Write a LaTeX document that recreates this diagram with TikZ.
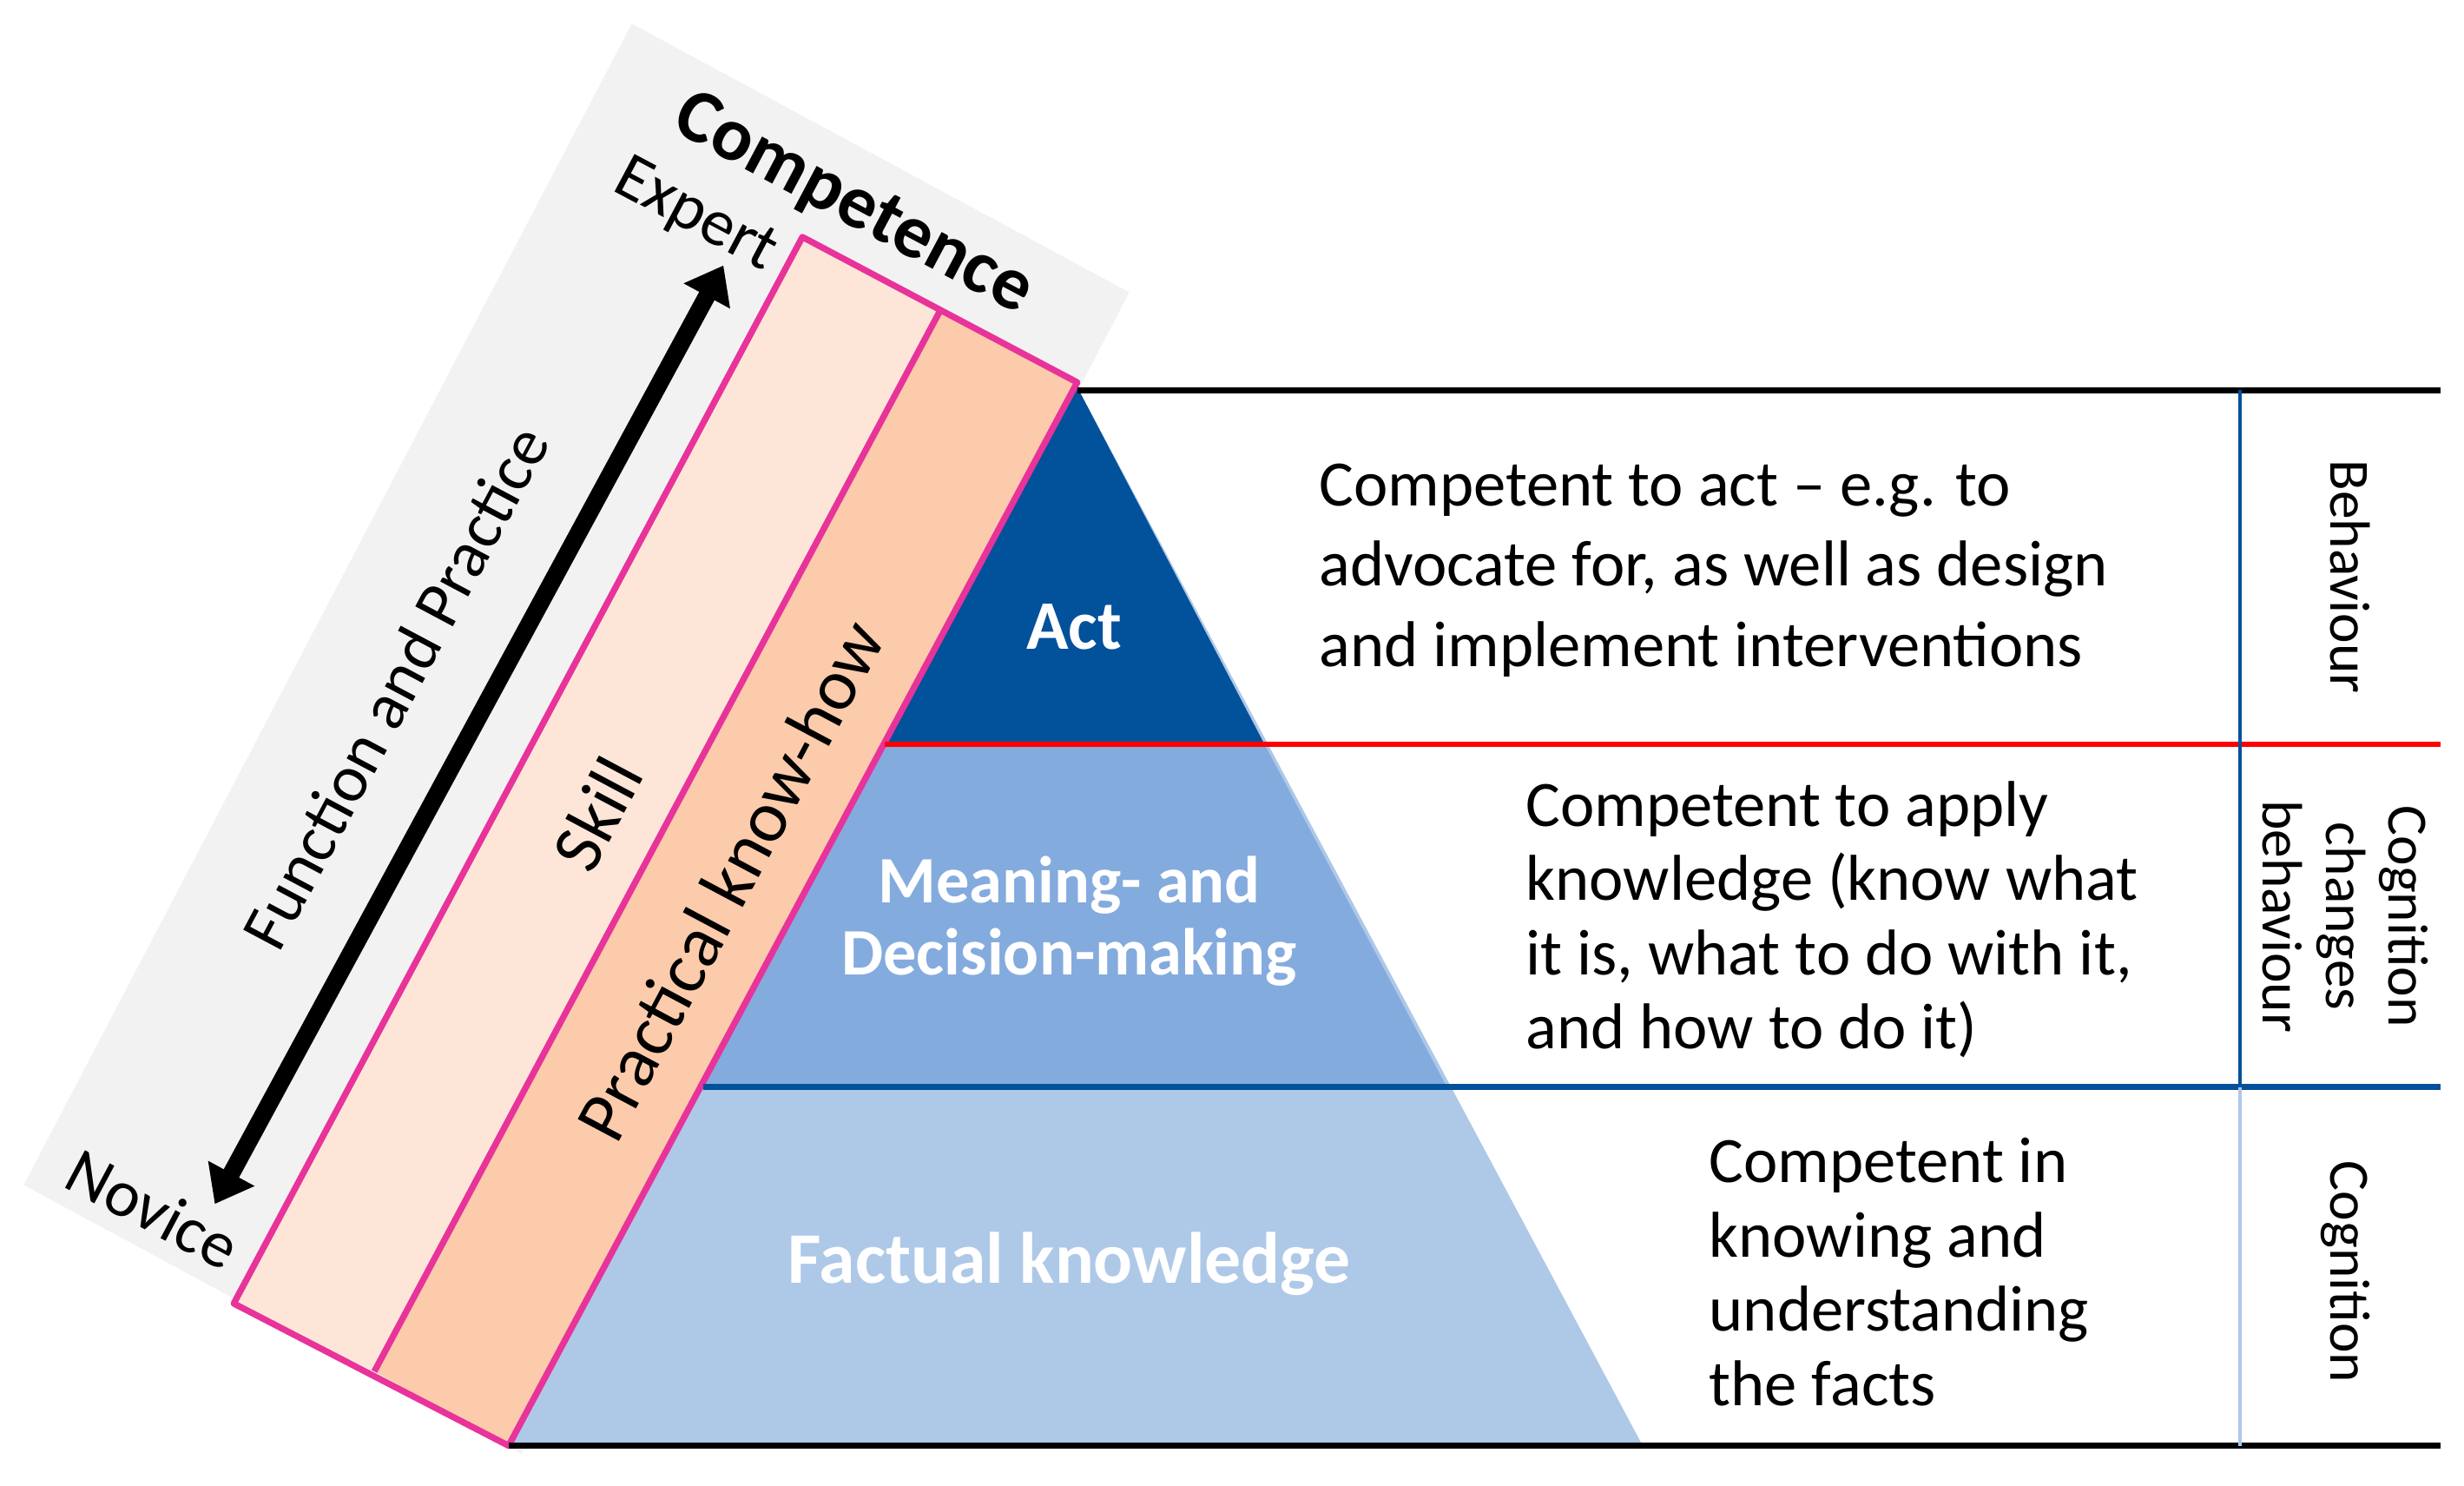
\documentclass[tikz,border=0pt]{standalone}
\usepackage{fontspec}
\setmainfont{Carlito}
\usetikzlibrary{arrows.meta}
\definecolor{dk}{HTML}{02519B}
\definecolor{md}{HTML}{84ABDE}
\definecolor{lt}{HTML}{AEC8E8}
\definecolor{pk}{HTML}{E8339A}
\definecolor{skl}{HTML}{FDE6D8}
\definecolor{pkh}{HTML}{FBCBAB}
\definecolor{gr}{HTML}{F2F2F2}
\tikzset{
 body/.style={align=left,anchor=west,font=\fontsize{41}{49}\selectfont,inner sep=0},
 pyr/.style={text=white,font=\bfseries\fontsize{44}{46}\selectfont,align=center},
 side/.style={rotate=-90,font=\fontsize{36}{40}\selectfont,align=center},
 band/.style={font=\fontsize{42}{44}\selectfont},
}
\begin{document}
\begin{tikzpicture}[x=1pt,y=-1pt]
\useasboundingbox (0,0) rectangle (1560,940);
% gray band
\fill[gr] (15,750) -- (400,15) -- (715,185) -- (330,920) -- cycle;
% pyramid
\fill[lt] (682,245) -- (322,915) -- (1040,915) -- cycle;
\fill[md] (445,688) -- (560,470) -- (800,470) -- (916,688) -- cycle;
\fill[dk] (682,245) -- (560,470) -- (800,470) -- cycle;
% pink bands
\fill[skl] (148,825) -- (508,150) -- (595,197) -- (237,868) -- cycle;
\fill[pkh] (237,868) -- (595,197) -- (682,242) -- (322,915) -- cycle;
\draw[pk,line width=4pt,line join=round] (148,825) -- (508,150) -- (682,242) -- (322,915) -- cycle;
\draw[pk,line width=4pt] (595,197) -- (237,868);
% lines
\draw[line width=3.5pt] (682,247) -- (1545,247);
\draw[red,line width=3.5pt] (560,471) -- (1545,471);
\draw[dk,line width=3.5pt] (445,688) -- (1545,688);
\draw[line width=3.5pt] (322,915) -- (1545,915);
\draw[dk,line width=2pt] (1418,247) -- (1418,688);
\draw[lt,line width=2pt] (1418,688) -- (1418,915);
% arrow
\coordinate (nv) at (136,762); \coordinate (ex) at (458,168);
\draw[line width=11pt,{Triangle[length=22pt,width=32pt]}-{Triangle[length=22pt,width=32pt]}] (nv) -- (ex);
% rotated labels
\node[rotate=-28,font=\bfseries\fontsize{48}{50}\selectfont] (comp) at (540,130) {Competence};
\node[rotate=-28,band] (exp) at (440,137) {Expert};
\node[rotate=-28,band] (nov) at (97,765) {Novice};
\node[rotate=62,band] (fp) at (250,435) {Function and Practice};
\node[rotate=62,band,font=\fontsize{45}{46}\selectfont] (sk) at (378,515) {Skill};
\node[rotate=62,band,font=\fontsize{46}{46}\selectfont] (pk) at (462,557) {Practical know-how};
% pyramid labels
\node[pyr] (act) at (680,397) {Act};
\node[pyr,font=\bfseries\fontsize{42}{46}\selectfont] (mean) at (677,583) {Meaning- and\\Decision-making};
\node[pyr,font=\bfseries\fontsize{46}{46}\selectfont] (fact) at (677,800) {Factual knowledge};
% right texts
\node[body,font=\fontsize{41}{51}\selectfont] (t1) at (835,361) {Competent to act -- e.g. to\\advocate for, as well as design\\and implement interventions};
\node[body,font=\fontsize{41}{47}\selectfont] (t2) at (966,582) {Competent to apply\\knowledge (know what\\it is, what to do with it,\\and how to do it)};
\node[body,font=\fontsize{41}{47}\selectfont] (t3) at (1082,805) {Competent in\\knowing and\\understanding\\the facts};
\node[side] (s1) at (1488,365) {Behaviour};
\node[side] (s2) at (1485,580) {Cognition\\changes\\behaviour};
\node[side] (s3) at (1485,805) {Cognition};
\end{tikzpicture}
\end{document}
